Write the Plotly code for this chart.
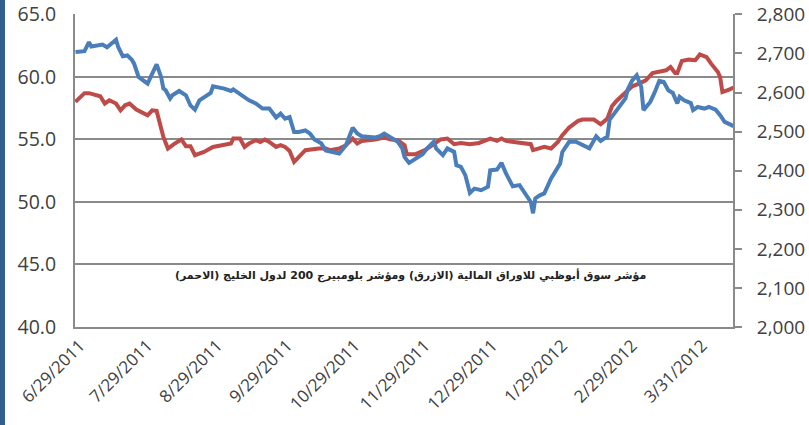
import plotly.graph_objects as go

# ---------------- data ----------------
adx_dates = [
    "2011-06-27","2011-07-01","2011-07-03","2011-07-04","2011-07-09","2011-07-11","2011-07-15","2011-07-16",
    "2011-07-18","2011-07-20","2011-07-22","2011-07-23","2011-07-25","2011-07-29","2011-07-31","2011-08-02",
    "2011-08-04","2011-08-05","2011-08-06","2011-08-08","2011-08-09","2011-08-12","2011-08-15","2011-08-17",
    "2011-08-19","2011-08-21","2011-08-26","2011-08-27","2011-09-01","2011-09-04","2011-09-05","2011-09-08",
    "2011-09-12","2011-09-15","2011-09-18","2011-09-21","2011-09-23","2011-09-24","2011-09-26","2011-09-28",
    "2011-09-30","2011-10-02","2011-10-04","2011-10-07","2011-10-09","2011-10-11","2011-10-14","2011-10-16",
    "2011-10-19","2011-10-22","2011-10-25","2011-10-28","2011-10-30","2011-11-01","2011-11-07","2011-11-09",
    "2011-11-11","2011-11-13","2011-11-15","2011-11-17","2011-11-19","2011-11-20","2011-11-22","2011-11-25",
    "2011-11-28","2011-11-30","2011-12-03","2011-12-04","2011-12-07","2011-12-09","2011-12-12","2011-12-13",
    "2011-12-15","2011-12-17","2011-12-19","2011-12-21","2011-12-24","2011-12-27","2011-12-28","2011-12-31",
    "2012-01-02","2012-01-04","2012-01-07","2012-01-10","2012-01-12","2012-01-15","2012-01-16","2012-01-17",
    "2012-01-19","2012-01-21","2012-01-24","2012-01-27","2012-01-28","2012-01-29","2012-02-01","2012-02-04",
    "2012-02-07","2012-02-10","2012-02-13","2012-02-15","2012-02-18","2012-02-19","2012-02-21","2012-02-24",
    "2012-02-26","2012-02-27","2012-02-29","2012-03-02","2012-03-04","2012-03-05","2012-03-08","2012-03-10",
    "2012-03-12","2012-03-14","2012-03-16","2012-03-18","2012-03-20","2012-03-21","2012-03-23","2012-03-26",
    "2012-03-27","2012-03-29","2012-04-01","2012-04-03","2012-04-06","2012-04-08","2012-04-10","2012-04-14",
]
adx_values = [
    2704, 2706, 2729, 2718, 2723, 2716, 2735, 2716,
    2693, 2695, 2684, 2674, 2640, 2623, 2648, 2672,
    2640, 2610, 2606, 2585, 2593, 2604, 2593, 2567,
    2556, 2580, 2599, 2616, 2610, 2604, 2608, 2596,
    2580, 2572, 2559, 2559, 2546, 2536, 2546, 2533,
    2537, 2499, 2499, 2503, 2495, 2480, 2470, 2452,
    2448, 2444, 2465, 2510, 2495, 2488, 2485, 2488,
    2495, 2488, 2480, 2474, 2457, 2435, 2420, 2431,
    2442, 2457, 2474, 2457, 2440, 2457, 2448, 2414,
    2410, 2388, 2343, 2354, 2350, 2359, 2401, 2403,
    2420, 2393, 2360, 2363, 2346, 2320, 2291, 2329,
    2337, 2342, 2380, 2406, 2418, 2448, 2474, 2474,
    2465, 2457, 2488, 2476, 2488, 2531, 2546, 2567,
    2585, 2608, 2631, 2644, 2614, 2555, 2576, 2601,
    2630, 2627, 2606, 2599, 2572, 2589, 2580, 2573,
    2555, 2563, 2559, 2563, 2556, 2542, 2525, 2514,
]

gcc_dates = [
    "2011-06-27","2011-07-01","2011-07-03","2011-07-08","2011-07-10","2011-07-12","2011-07-15","2011-07-17",
    "2011-07-19","2011-07-21","2011-07-24","2011-07-29","2011-07-31","2011-08-02","2011-08-05","2011-08-07",
    "2011-08-10","2011-08-13","2011-08-15","2011-08-17","2011-08-19","2011-08-23","2011-08-27","2011-09-01",
    "2011-09-04","2011-09-05","2011-09-08","2011-09-10","2011-09-12","2011-09-15","2011-09-17","2011-09-19",
    "2011-09-21","2011-09-24","2011-09-26","2011-09-28","2011-09-30","2011-10-02","2011-10-04","2011-10-07",
    "2011-10-13","2011-10-16","2011-10-18","2011-10-22","2011-10-25","2011-10-28","2011-10-30","2011-11-01",
    "2011-11-07","2011-11-11","2011-11-14","2011-11-17","2011-11-20","2011-11-21","2011-11-25","2011-11-29",
    "2011-12-03","2011-12-06","2011-12-09","2011-12-12","2011-12-15","2011-12-19","2011-12-23","2011-12-26",
    "2011-12-28","2011-12-31","2012-01-02","2012-01-04","2012-01-07","2012-01-12","2012-01-15","2012-01-16",
    "2012-01-19","2012-01-21","2012-01-24","2012-01-27","2012-01-29","2012-01-31","2012-02-01","2012-02-05",
    "2012-02-07","2012-02-12","2012-02-15","2012-02-18","2012-02-20","2012-02-22","2012-02-25","2012-02-27",
    "2012-02-29","2012-03-03","2012-03-06","2012-03-09","2012-03-11","2012-03-15","2012-03-17","2012-03-19",
    "2012-03-20","2012-03-22","2012-03-25","2012-03-28","2012-03-30","2012-04-02","2012-04-04","2012-04-07",
    "2012-04-08","2012-04-09","2012-04-12","2012-04-14",
]
gcc_values = [
    58.00, 58.70, 58.70, 58.45, 57.87, 58.13, 57.87, 57.33,
    57.73, 57.87, 57.39, 56.93, 57.33, 57.28, 55.20, 54.27,
    54.67, 55.00, 54.46, 54.46, 53.74, 54.00, 54.40, 54.62,
    54.67, 55.07, 55.07, 54.40, 54.67, 54.94, 54.80, 55.00,
    54.80, 54.40, 54.54, 54.40, 54.08, 53.20, 53.60, 54.14,
    54.27, 54.27, 54.14, 54.27, 54.54, 55.07, 54.67, 54.88,
    55.00, 55.15, 55.00, 54.94, 54.54, 53.82, 53.82, 54.14,
    54.62, 55.00, 55.07, 54.62, 54.72, 54.62, 54.72, 54.94,
    55.07, 54.88, 55.07, 54.88, 54.80, 54.72, 54.62, 54.14,
    54.27, 54.40, 54.27, 54.80, 55.34, 55.73, 55.95, 56.48,
    56.59, 56.59, 56.21, 56.67, 57.65, 58.08, 58.61, 58.93,
    59.25, 59.46, 59.73, 60.31, 60.39, 60.53, 60.79, 60.31,
    60.31, 61.27, 61.38, 61.33, 61.80, 61.59, 61.06, 60.39,
    59.99, 58.79, 58.99, 59.15,
]
assert len(adx_dates) == len(adx_values)
assert len(gcc_dates) == len(gcc_values)

x_tick_dates = ["2011-06-29","2011-07-29","2011-08-29","2011-09-29","2011-10-29",
                "2011-11-29","2011-12-29","2012-01-29","2012-02-29","2012-03-31"]
x_tick_labels = ["6/29/2011","7/29/2011","8/29/2011","9/29/2011","10/29/2011",
                 "11/29/2011","12/29/2011","1/29/2012","2/29/2012","3/31/2012"]
left_ticks = [40, 45, 50, 55, 60, 65]
left_tick_labels = ["40.0", "45.0", "50.0", "55.0", "60.0", "65.0"]
right_ticks = [2000, 2100, 2200, 2300, 2400, 2500, 2600, 2700, 2800]
right_tick_labels = ["2,000", "2,100", "2,200", "2,300", "2,400", "2,500", "2,600", "2,700", "2,800"]

note_text = "مؤشر سوق أبوظبي للاوراق المالية (الازرق) ومؤشر بلومبيرج 200 لدول الخليج (الاحمر)"

# ---------------- styling ----------------
W, H = 809, 425
ML, MR, MT, MB = 75, 76, 14, 98
PW, PH = W - ML - MR, H - MT - MB
GRID = "#8a8a8a"
TXT = "#404040"
BLUE = "#4A7EBB"
RED = "#BE4B48"

fig = go.Figure()
fig.add_trace(go.Scatter(x=gcc_dates, y=gcc_values, mode="lines", yaxis="y",
                         line=dict(color=RED, width=4), showlegend=False))
fig.add_trace(go.Scatter(x=adx_dates, y=adx_values, mode="lines", yaxis="y2",
                         line=dict(color=BLUE, width=4), showlegend=False))

fig.update_layout(
    width=W, height=H,
    margin=dict(l=ML, r=MR, t=MT, b=MB, pad=0, autoexpand=False),
    paper_bgcolor="white", plot_bgcolor="white",
    font=dict(family="Open Sans", color=TXT, size=19),
    xaxis=dict(
        type="date", range=["2011-06-26 19:00", "2012-04-13 17:00"],
        tickmode="array", tickvals=x_tick_dates, ticktext=x_tick_labels,
        tickangle=-45, tickfont=dict(size=17, color=TXT),
        showgrid=False, zeroline=False, automargin=False,
        showline=True, linecolor=GRID, linewidth=2, ticks="",
    ),
    yaxis=dict(
        range=[40, 65.03], tickmode="array", tickvals=left_ticks, ticktext=left_tick_labels,
        tickfont=dict(size=19.5, color=TXT), showgrid=True, gridcolor=GRID, gridwidth=2,
        zeroline=False, showline=True, linecolor=GRID, linewidth=2, ticks="",
        ticklabelstandoff=13, automargin=False, ticklabeloverflow="allow",
    ),
    yaxis2=dict(
        range=[2000, 2801], overlaying="y", side="right",
        tickmode="array", tickvals=right_ticks, ticktext=right_tick_labels,
        tickfont=dict(size=19, color=TXT), showgrid=False, zeroline=False,
        showline=True, linecolor=GRID, linewidth=2,
        ticks="outside", ticklen=7, tickcolor=GRID, tickwidth=1.5,
        ticklabelstandoff=11, automargin=False, ticklabeloverflow="allow",
    ),
    annotations=[dict(
        text="<b>" + note_text + "</b>", xref="paper", yref="paper",
        x=0.51, y=(327 - 275) / PH, xanchor="center", yanchor="middle",
        showarrow=False, font=dict(family="DejaVu Sans", size=11, color="#222222"),
    )],
    shapes=[dict(
        type="rect", xref="paper", yref="paper",
        x0=-ML / PW, x1=-(ML - 5) / PW, y0=-MB / PH, y1=1 + MT / PH,
        fillcolor="#325E90", line=dict(width=0),
    )],
)

fig.write_html(
    "out.html",
    config={"displayModeBar": False},
    post_script="document.body.style.margin='0';document.body.style.overflow='hidden';",
)
